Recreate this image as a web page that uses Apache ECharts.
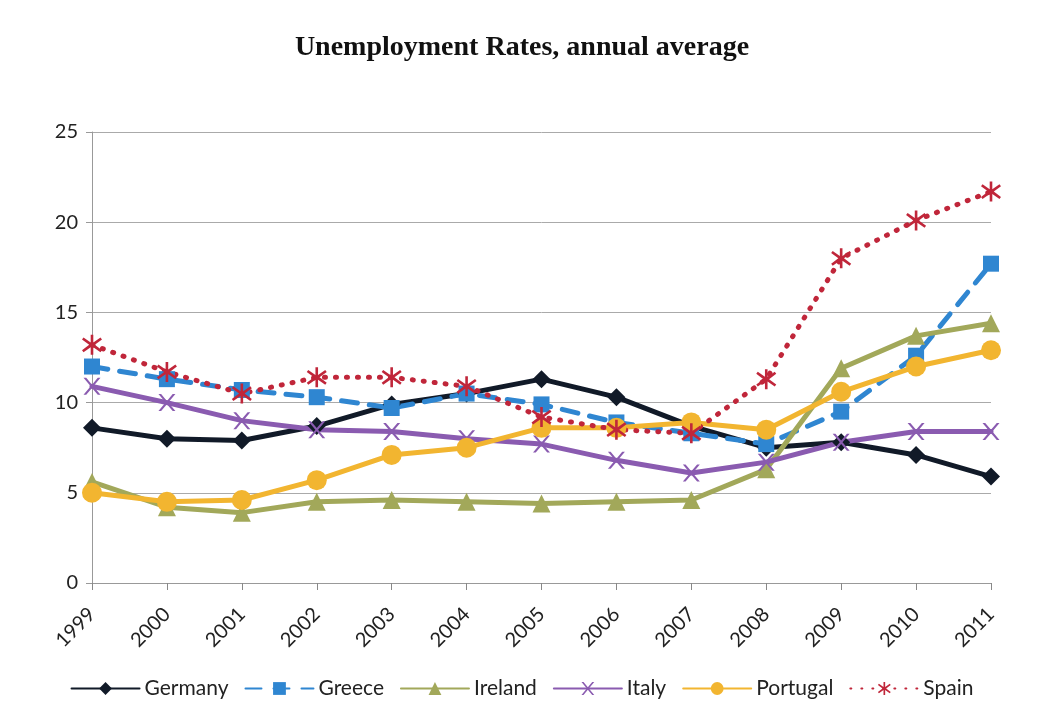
<!DOCTYPE html>
<html>
<head>
<meta charset="utf-8">
<script src="https://cdn.jsdelivr.net/npm/echarts@6/dist/echarts.min.js"></script>
<style>
  html, body { margin: 0; padding: 0; background: #fff; }
  #container { width: 1044px; height: 718px; }
</style>
</head>
<body>
<div id="container"></div>
<script>
var years = ["1999", "2000", "2001", "2002", "2003", "2004", "2005", "2006", "2007", "2008", "2009", "2010", "2011"];
var germany = [8.6, 8.0, 7.9, 8.7, 9.9, 10.5, 11.3, 10.3, 8.7, 7.5, 7.8, 7.1, 5.9];
var greece = [12.0, 11.3, 10.7, 10.3, 9.7, 10.5, 9.9, 8.9, 8.3, 7.7, 9.5, 12.6, 17.7];
var ireland = [5.6, 4.2, 3.9, 4.5, 4.6, 4.5, 4.4, 4.5, 4.6, 6.3, 11.9, 13.7, 14.4];
var italy = [10.9, 10.0, 9.0, 8.5, 8.4, 8.0, 7.7, 6.8, 6.1, 6.7, 7.8, 8.4, 8.4];
var portugal = [5.0, 4.5, 4.6, 5.7, 7.1, 7.5, 8.6, 8.6, 8.9, 8.5, 10.6, 12.0, 12.9];
var spain = [13.2, 11.7, 10.5, 11.4, 11.4, 10.9, 9.2, 8.5, 8.3, 11.3, 18.0, 20.1, 21.7];

var xMark = "path://M0,0 L1.6,0 L5,4 L8.4,0 L10,0 L5.8,5 L10,10 L8.4,10 L5,6 L1.6,10 L0,10 L4.2,5 Z";
var starMark = "path://M4.4,0 L5.6,0 L5.6,3.8 L8.9,1.3 L9.6,2.3 L6.3,5 L9.6,7.7 L8.9,8.7 L5.6,6.2 L5.6,10 L4.4,10 L4.4,6.2 L1.1,8.7 L0.4,7.7 L3.7,5 L0.4,2.3 L1.1,1.3 L4.4,3.8 Z";

var dom = document.getElementById("container");
var myChart = echarts.init(dom, null, { renderer: "canvas" });

function line(name, data, color, symbol, size, lineType, width) {
  return {
    name: name,
    type: "line",
    data: data,
    symbol: symbol,
    symbolSize: size,
    showAllSymbol: true,
    color: color,
    lineStyle: { color: color, width: width, type: lineType, cap: "round" },
    itemStyle: { color: color, borderWidth: 0 },
    emphasis: { disabled: true },
    animation: false,
  };
}

var option = {
  backgroundColor: "#fff",
  title: {
    text: "Unemployment Rates, annual average",
    left: "center",
    top: 29,
    textStyle: {
      fontFamily: "Liberation Serif",
      fontWeight: "bold",
      fontSize: 28,
      color: "#111",
    },
  },
  legend: {
    bottom: 14,
    left: "center",
    itemWidth: 68,
    itemHeight: 16,
    itemGap: 16,
    textStyle: { fontFamily: "Lato", fontSize: 21, color: "#222" },
    data: ["Germany", "Greece", "Ireland", "Italy", "Portugal", "Spain"],
  },
  grid: {
    left: 92,
    right: 53,
    top: 132,
    bottom: 135,
  },
  xAxis: {
    type: "category",
    data: years,
    boundaryGap: false,
    axisLine: { lineStyle: { color: "#999", width: 1 } },
    axisTick: { show: true, alignWithLabel: true, length: 7, lineStyle: { color: "#888" } },
    axisLabel: {
      rotate: 45,
      fontFamily: "Lato",
      fontSize: 20,
      color: "#222",
      margin: 28,
    },
  },
  yAxis: {
    type: "value",
    min: 0,
    max: 25,
    interval: 5,
    axisLine: { show: true, lineStyle: { color: "#999", width: 1 } },
    axisTick: { show: true, length: 6, lineStyle: { color: "#999" } },
    splitLine: { lineStyle: { color: "#aaa", width: 1 } },
    axisLabel: { fontFamily: "Lato", fontSize: 20, color: "#222", margin: 14 },
  },
  series: [
    line("Germany", germany, "#111a28", "diamond", 18, "solid", 5),
    line("Greece", greece, "#2f86d1", "rect", 16, [16, 12], 5),
    line("Ireland", ireland, "#a2a85a", "triangle", 18, "solid", 5),
    line("Italy", italy, "#8a5bb0", xMark, 17, "solid", 5),
    line("Portugal", portugal, "#f2b530", "circle", 20, "solid", 5),
    line("Spain", spain, "#c0263a", starMark, 20, [1, 10], 5),
  ],
};

myChart.setOption(option);
window.addEventListener("resize", myChart.resize);
</script>
</body>
</html>
